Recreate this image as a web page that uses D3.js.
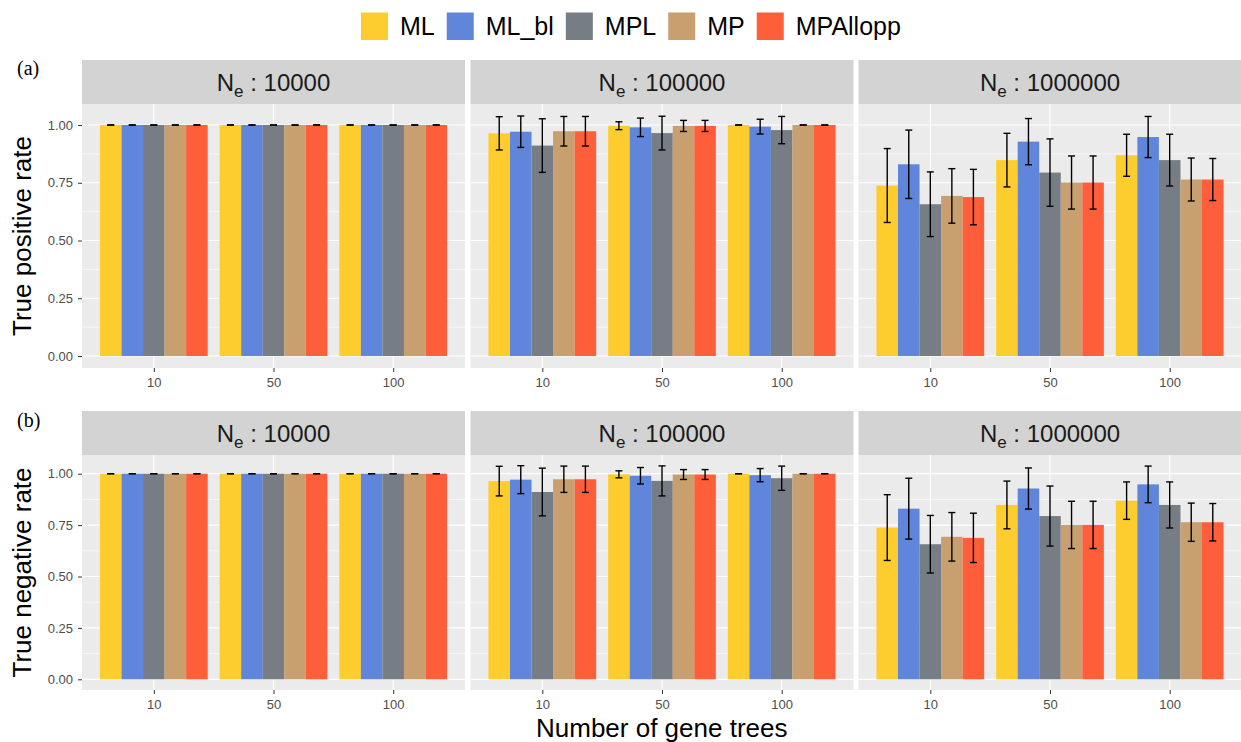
<!DOCTYPE html>
<html lang="en">
<head>
<meta charset="UTF-8">
<script src="https://d3js.org/d3.v7.min.js"></script>
<style>
    body { margin: 0; background: #fff; font-family: "Liberation Sans", Arial, sans-serif; }
    .axis text { font-size: 13px; fill: #4d4d4d; font-family: "Liberation Sans", Arial, sans-serif; }
    .axis line { stroke: #333; }
    .axis .domain { display: none; }
</style>
</head>
<body>
<svg id="chart"></svg>
<script>
const methods = ["ML", "ML_bl", "MPL", "MP", "MPAllopp"];
const methodColors = ["#FDCD2D", "#5F86DB", "#777D85", "#C8A06F", "#FE5E39"];
const geneTrees = ["10", "50", "100"];
const popSizes = ["10000", "100000", "1000000"];
const yTicks = [0, 0.25, 0.5, 0.75, 1];
const yMinor = [0.125, 0.375, 0.625, 0.875];

// (a) true positive rate, rows = gene trees (10, 50, 100), cols = methods
const tprMean10k  = [[1, 1, 1, 1, 1], [1, 1, 1, 1, 1], [1, 1, 1, 1, 1]];
const tprErr10k   = [[0, 0, 0, 0, 0], [0, 0, 0, 0, 0], [0, 0, 0, 0, 0]];
const tprMean100k = [[0.964, 0.971, 0.911, 0.973, 0.973], [0.997, 0.990, 0.965, 0.996, 0.996], [1, 0.993, 0.978, 1, 1]];
const tprErr100k  = [[0.072, 0.068, 0.116, 0.064, 0.064], [0.017, 0.040, 0.073, 0.024, 0.024], [0, 0.032, 0.059, 0, 0]];
const tprMean1M   = [[0.738, 0.830, 0.657, 0.693, 0.688], [0.848, 0.928, 0.794, 0.751, 0.751], [0.869, 0.948, 0.848, 0.764, 0.764]];
const tprErr1M    = [[0.160, 0.148, 0.140, 0.118, 0.120], [0.116, 0.100, 0.146, 0.115, 0.115], [0.091, 0.089, 0.112, 0.093, 0.091]];

// (b) true negative rate
const tnrMean10k  = [[1, 1, 1, 1, 1], [1, 1, 1, 1, 1], [1, 1, 1, 1, 1]];
const tnrErr10k   = [[0, 0, 0, 0, 0], [0, 0, 0, 0, 0], [0, 0, 0, 0, 0]];
const tnrMean100k = [[0.964, 0.971, 0.911, 0.973, 0.973], [0.997, 0.990, 0.965, 0.996, 0.996], [1, 0.993, 0.978, 1, 1]];
const tnrErr100k  = [[0.072, 0.068, 0.116, 0.064, 0.064], [0.017, 0.040, 0.073, 0.024, 0.024], [0, 0.032, 0.059, 0, 0]];
const tnrMean1M   = [[0.738, 0.830, 0.657, 0.693, 0.688], [0.848, 0.928, 0.794, 0.751, 0.751], [0.869, 0.948, 0.848, 0.764, 0.764]];
const tnrErr1M    = [[0.160, 0.148, 0.140, 0.118, 0.120], [0.116, 0.100, 0.146, 0.115, 0.115], [0.091, 0.089, 0.112, 0.093, 0.091]];

const W = 1241, H = 742;
const cols = [[82, 465], [470.5, 853.5], [858.5, 1241.5]];
const rows = [
    {strip: [60, 104], panel: [104, 368], tag: "(a)", tagY: 74.5, title: "True positive rate",
     means: [tprMean10k, tprMean100k, tprMean1M], errs: [tprErr10k, tprErr100k, tprErr1M]},
    {strip: [411, 455], panel: [455, 690], tag: "(b)", tagY: 426.5, title: "True negative rate",
     means: [tnrMean10k, tnrMean100k, tnrMean1M], errs: [tnrErr10k, tnrErr100k, tnrErr1M]}
];

const svg = d3.select("#chart").attr("width", W).attr("height", H);
const color = d3.scaleOrdinal().domain(methods).range(methodColors);

// shared y limit like ggplot (fixed scales, 5% expansion)
let maxUp = 0;
rows.forEach(r => r.means.forEach((m, p) => m.forEach((g, gi) => g.forEach((v, mi) => {
    maxUp = Math.max(maxUp, v + r.errs[p][gi][mi]);
}))));
const yLo = -0.05 * maxUp, yHi = maxUp * 1.05;

rows.forEach(row => {
    const y = d3.scaleLinear().domain([yLo, yHi]).range([row.panel[1], row.panel[0]]);

    cols.forEach((c, p) => {
        const x = d3.scalePoint().domain(geneTrees).range(c).padding(0.6);
        const step = x.step();
        const xm = d3.scaleBand().domain(methods).range([-0.45 * step, 0.45 * step]).padding(0);

        // strip
        svg.append("rect").attr("x", c[0]).attr("y", row.strip[0])
            .attr("width", c[1] - c[0]).attr("height", row.strip[1] - row.strip[0])
            .attr("fill", "#D3D3D3");
        const st = svg.append("text")
            .attr("x", (c[0] + c[1]) / 2).attr("y", (row.strip[0] + row.strip[1]) / 2 + 8.5)
            .attr("text-anchor", "middle").attr("fill", "#1a1a1a").style("font-size", "24px");
        st.append("tspan").text("N");
        st.append("tspan").attr("dy", 6).style("font-size", "17px").text("e");
        st.append("tspan").attr("dy", -6).text(" : " + popSizes[p]);

        // panel + grid
        svg.append("rect").attr("x", c[0]).attr("y", row.panel[0])
            .attr("width", c[1] - c[0]).attr("height", row.panel[1] - row.panel[0])
            .attr("fill", "#EBEBEB");
        svg.append("g").selectAll("line").data(yMinor).join("line")
            .attr("x1", c[0]).attr("x2", c[1])
            .attr("y1", d => y(d)).attr("y2", d => y(d))
            .attr("stroke", "#fff").attr("stroke-width", 0.6);
        svg.append("g").selectAll("line").data(yTicks).join("line")
            .attr("x1", c[0]).attr("x2", c[1])
            .attr("y1", d => y(d)).attr("y2", d => y(d))
            .attr("stroke", "#fff").attr("stroke-width", 1.2);
        svg.append("g").selectAll("line").data(geneTrees).join("line")
            .attr("x1", d => x(d)).attr("x2", d => x(d))
            .attr("y1", row.panel[0]).attr("y2", row.panel[1])
            .attr("stroke", "#fff").attr("stroke-width", 1.2);

        const data = [];
        geneTrees.forEach((g, gi) => methods.forEach((m, mi) => {
            data.push({g, m, v: row.means[p][gi][mi], e: row.errs[p][gi][mi]});
        }));

        svg.append("g").selectAll("rect").data(data).join("rect")
            .attr("x", d => x(d.g) + xm(d.m))
            .attr("y", d => y(d.v))
            .attr("width", xm.bandwidth())
            .attr("height", d => y(0) - y(d.v))
            .attr("fill", d => color(d.m));

        const eb = svg.append("g").attr("stroke", "#000").attr("stroke-width", 1.4);
        const cx = d => x(d.g) + xm(d.m) + xm.bandwidth() / 2;
        eb.selectAll(".v").data(data).join("line").attr("class", "v")
            .attr("x1", cx).attr("x2", cx)
            .attr("y1", d => y(d.v - d.e)).attr("y2", d => y(d.v + d.e));
        eb.selectAll(".t").data(data).join("line").attr("class", "t")
            .attr("x1", d => cx(d) - 3.5).attr("x2", d => cx(d) + 3.5)
            .attr("y1", d => y(d.v + d.e)).attr("y2", d => y(d.v + d.e));
        eb.selectAll(".b").data(data).join("line").attr("class", "b")
            .attr("x1", d => cx(d) - 3.5).attr("x2", d => cx(d) + 3.5)
            .attr("y1", d => y(d.v - d.e)).attr("y2", d => y(d.v - d.e));

        svg.append("g").attr("class", "axis")
            .attr("transform", `translate(0,${row.panel[1]})`)
            .call(d3.axisBottom(x).tickSize(4).tickPadding(6));

        if (p === 0) {
            svg.append("g").attr("class", "axis")
                .attr("transform", `translate(${c[0]},0)`)
                .call(d3.axisLeft(y).tickValues(yTicks).tickFormat(d3.format(".2f")).tickSize(4).tickPadding(5));
        }
    });

    svg.append("text").attr("x", 17).attr("y", row.tagY)
        .style("font-family", "'Liberation Serif', 'Times New Roman', serif")
        .style("font-size", "20px").attr("fill", "#000").text(row.tag);

    svg.append("text")
        .attr("transform", `translate(31,${(row.panel[0] + row.panel[1]) / 2}) rotate(-90)`)
        .attr("text-anchor", "middle").style("font-size", "26px").attr("fill", "#000")
        .text(row.title);
});

svg.append("text").attr("x", (cols[0][0] + cols[2][1]) / 2).attr("y", 737)
    .attr("text-anchor", "middle").style("font-size", "26px").attr("fill", "#000")
    .text("Number of gene trees");

// legend
let lx = 361;
methods.forEach(m => {
    svg.append("rect").attr("x", lx).attr("y", 12.5).attr("width", 27).attr("height", 27.5)
        .attr("fill", color(m));
    const t = svg.append("text").attr("x", lx + 39).attr("y", 35)
        .style("font-size", "25px").attr("fill", "#000").text(m);
    lx += 39 + t.node().getComputedTextLength() + 12;
});
</script>
</body>
</html>
